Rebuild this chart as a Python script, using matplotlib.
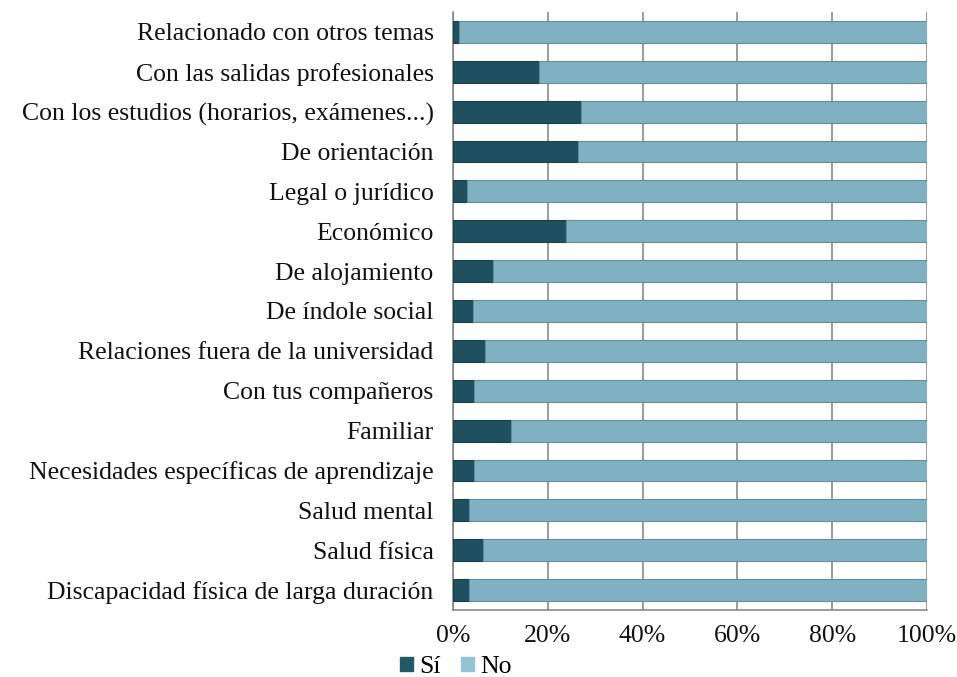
import numpy as np
import matplotlib.pyplot as plt

categorias = [
    "Relacionado con otros temas",
    "Con las salidas profesionales",
    "Con los estudios (horarios, exámenes...)",
    "De orientación",
    "Legal o jurídico",
    "Económico",
    "De alojamiento",
    "De índole social",
    "Relaciones fuera de la universidad",
    "Con tus compañeros",
    "Familiar",
    "Necesidades específicas de aprendizaje",
    "Salud mental",
    "Salud física",
    "Discapacidad física de larga duración",
]
si = [1.3, 18.1, 27.0, 26.4, 2.9, 23.8, 8.5, 4.3, 6.7, 4.5, 12.2, 4.5, 3.3, 6.3, 3.3]
no = [100 - v for v in si]
ticks = [0, 20, 40, 60, 80, 100]
tick_labels = ["0%", "20%", "40%", "60%", "80%", "100%"]

plt.rcParams['font.family'] = ['Liberation Serif', 'DejaVu Serif']
fs = 18.5

fig = plt.figure(figsize=(9.57, 6.77), dpi=100)
ax = fig.add_axes([453 / 957, 1 - 610 / 677, 474 / 957, 598 / 677])

y = np.arange(len(categorias))[::-1]
c_si = "#1e5060"
c_no = "#7fb1c3"
ax.barh(y, si, height=0.55, color=c_si, edgecolor="#173f4c", linewidth=0.8, label="Sí", zorder=3)
ax.barh(y, no, left=si, height=0.55, color=c_no, edgecolor="#5f8e9f", linewidth=0.8, label="No", zorder=3)

ax.set_xlim(0, 100)
ax.set_ylim(-0.5, len(categorias) - 0.5)
ax.set_yticks(y)
ax.set_yticklabels(categorias, fontsize=fs)
ax.set_xticks(ticks)
ax.set_xticklabels(tick_labels, fontsize=fs)
ax.tick_params(axis="both", length=0, colors="#111111")
ax.tick_params(axis="y", pad=14)
ax.tick_params(axis="x", pad=11)
ax.xaxis.grid(True, color="#808080", linewidth=1.1, zorder=0)
ax.set_axisbelow(True)
for s in ["top", "right"]:
    ax.spines[s].set_visible(False)
for s in ["left", "bottom"]:
    ax.spines[s].set_color("#808080")
    ax.spines[s].set_linewidth(1.1)

handles = [plt.Rectangle((0, 0), 1, 1, color="#215968"),
           plt.Rectangle((0, 0), 1, 1, color="#93c3d5")]
fig.legend(handles, ["Sí", "No"], loc="center left", bbox_to_anchor=(400 / 957, 1 - 667 / 677),
           ncol=2, frameon=False, fontsize=fs, handlelength=0.5, handleheight=0.5,
           handletextpad=0.25, columnspacing=0.8, borderaxespad=0, borderpad=0)

fig.savefig("out.png", dpi=100)
